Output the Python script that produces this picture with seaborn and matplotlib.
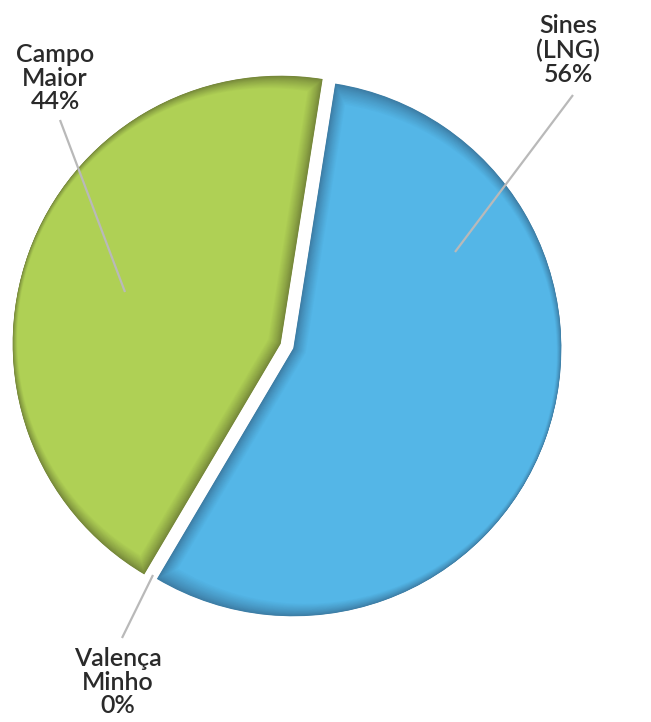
import matplotlib
matplotlib.use("Agg")
import matplotlib.pyplot as plt
from matplotlib.patches import Wedge
import seaborn as sns
import numpy as np

# Data
labels = ["Sines\n(LNG)", "Valença\nMinho", "Campo\nMaior"]
values = [56, 0, 44]
colors = ["#54b6e7", "#a9cc52", "#afd055"]
rim_colors = ["#3d7ea6", "#76883a", "#76883a"]

sns.set_theme(style="white")
plt.rcParams['font.family'] = ['Lato', 'DejaVu Sans']

W, H = 651, 722
fig = plt.figure(figsize=(W / 100, H / 100), dpi=100)
ax = fig.add_axes([0, 0, 1, 1])

# pie geometry in pixels
cx, cy, R = 287, 346, 268

wedges, _ = ax.pie(values, colors=rim_colors, startangle=81, counterclock=False,
                   explode=[0.025, 0, 0.025], radius=1,
                   wedgeprops=dict(linewidth=0))

# fake 3D: inset layers going from the dark rim to the face colour
N, T = 16, 13 / R
for w, main, rim in zip(wedges, colors, rim_colors):
    if w.theta2 - w.theta1 < 0.1:
        continue
    mid = np.deg2rad((w.theta1 + w.theta2) / 2)
    half = np.deg2rad((w.theta2 - w.theta1) / 2)
    grad = sns.blend_palette([rim, main], N)
    for k in range(N):
        t = T * ((k + 1) / N) ** 1.3
        d = t / np.sin(half)
        c = (w.center[0] + d * np.cos(mid), w.center[1] + d * np.sin(mid))
        ax.add_patch(Wedge(c, w.r - t - 0.3 * d, w.theta1, w.theta2,
                           facecolor=grad[k], linewidth=0))

ax.set_aspect('auto')
ax.set_xlim(-cx / R, (W - cx) / R)
ax.set_ylim(-(H - cy) / R, cy / R)
ax.axis('off')

# labels with leader lines (pixel positions)
text_pos = {"Sines\n(LNG)": (568, 50), "Campo\nMaior": (55, 78), "Valença\nMinho": (118, 682)}
line_from = {"Sines\n(LNG)": (573, 95), "Campo\nMaior": (60, 120), "Valença\nMinho": (122, 638)}
line_to = {"Sines\n(LNG)": (455, 252), "Campo\nMaior": (125, 292), "Valença\nMinho": (153, 575)}

def px(p):
    return ((p[0] - cx) / R, (cy - p[1]) / R)

for lab, v in zip(labels, values):
    x0, y0 = px(line_from[lab])
    x1, y1 = px(line_to[lab])
    ax.plot([x0, x1], [y0, y1], color="#b9b9b9", linewidth=1.6, solid_capstyle='butt')
    tx, ty = px(text_pos[lab])
    ax.text(tx, ty, f"{lab}\n{v}%", ha='center', va='center', fontsize=18,
            fontweight='semibold', color="#2a2a2a", linespacing=1.05)

plt.savefig("out.png", dpi=100)
